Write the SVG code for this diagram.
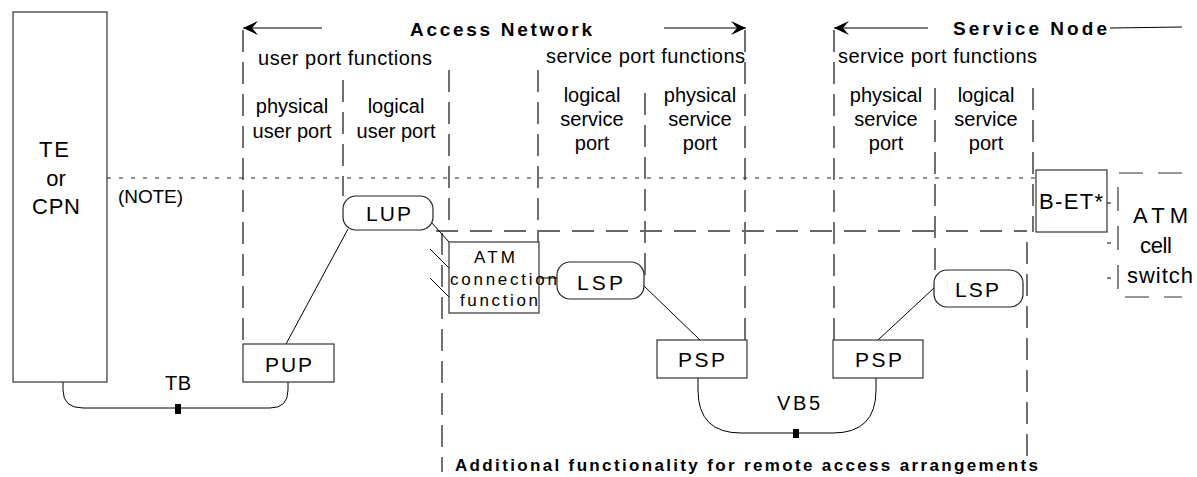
<svg xmlns="http://www.w3.org/2000/svg" width="1197" height="477" viewBox="0 0 1197 477">
<defs>
<style>
text{font-family:"Liberation Sans",Arial,sans-serif;font-size:20px;fill:#000}
.b{font-weight:bold;font-size:19px}
.m{text-anchor:middle}
.lg{font-size:22px}
.nl{font-size:21px}
.box{fill:#fff;stroke:#333;stroke-width:1.2}
.oct{fill:#fff;stroke:#222;stroke-width:1.2}
.ln{fill:none;stroke:#000;stroke-width:1}
.vd{fill:none;stroke:#111;stroke-width:1.2;stroke-dasharray:22 10}
.dot{fill:none;stroke:#222;stroke-width:1;stroke-dasharray:4 8}
.ld{fill:none;stroke:#666;stroke-width:2;stroke-dasharray:22 12}
.sw{fill:none;stroke:#333;stroke-width:1.2;stroke-dasharray:24 15}
</style>
<marker id="ah" viewBox="-16 -8 17 16" markerWidth="17" markerHeight="16" refX="0" refY="0" orient="auto" markerUnits="userSpaceOnUse">
<path d="M0,0 L-15,-7 L-9,0 L-15,7 Z" fill="#000"/>
</marker>
</defs>

<g id="frames">
<line class="vd" x1="243" y1="30" x2="243" y2="344"/>
<line class="vd" x1="343" y1="80" x2="343" y2="196"/>
<line class="vd" x1="449" y1="70" x2="449" y2="231"/>
<line class="vd" x1="442" y1="233" x2="442" y2="472"/>
<line class="vd" x1="538" y1="70" x2="538" y2="242"/>
<line class="vd" x1="645" y1="93" x2="645" y2="276"/>
<line class="vd" x1="745" y1="30" x2="745" y2="340"/>
<line class="vd" x1="834" y1="30" x2="834" y2="340"/>
<line class="vd" x1="935" y1="88" x2="935" y2="270"/>
<line class="vd" x1="1033" y1="88" x2="1033" y2="232"/>
<line class="vd" x1="1027" y1="242" x2="1027" y2="460"/>
<line class="dot" x1="107" y1="178" x2="1036" y2="178"/>
<line class="ld" x1="436" y1="231" x2="1027" y2="231"/>
<path class="sw" d="M1182,173 L1118,173 L1118,297 L1182,297"/>
<line class="ln" x1="1107" y1="203" x2="1111" y2="203"/>
<line class="ln" x1="1107" y1="243" x2="1111" y2="243"/>
<line class="ln" x1="1107" y1="278" x2="1111" y2="278"/>
</g>

<g id="titles">
<line class="ln" x1="322" y1="28" x2="243" y2="28" marker-end="url(#ah)"/>
<text class="b" x="410" y="36" textLength="182" lengthAdjust="spacing">Access Network</text>
<line class="ln" x1="664" y1="28" x2="746" y2="28" marker-end="url(#ah)"/>
<line class="ln" x1="928" y1="28" x2="834" y2="28" marker-end="url(#ah)"/>
<text class="b" x="953" y="35" textLength="154" lengthAdjust="spacing">Service Node</text>
<line class="ln" x1="1110" y1="28" x2="1182" y2="27"/>
<text x="258" y="65" textLength="174" lengthAdjust="spacing">user port functions</text>
<text x="546" y="63" textLength="199" lengthAdjust="spacing">service port functions</text>
<text x="838" y="63" textLength="199" lengthAdjust="spacing">service port functions</text>
<text class="m" x="292" y="113">physical</text>
<text class="m" x="292" y="138">user port</text>
<text class="m" x="396" y="113">logical</text>
<text class="m" x="396" y="138">user port</text>
<text class="m" x="592" y="102">logical</text>
<text class="m" x="592" y="126">service</text>
<text class="m" x="592" y="150">port</text>
<text class="m" x="700" y="102">physical</text>
<text class="m" x="700" y="126">service</text>
<text class="m" x="700" y="150">port</text>
<text class="m" x="886" y="102">physical</text>
<text class="m" x="886" y="126">service</text>
<text class="m" x="886" y="150">port</text>
<text class="m" x="986" y="102">logical</text>
<text class="m" x="986" y="126">service</text>
<text class="m" x="986" y="150">port</text>
<text x="118" y="203" style="font-size:19px" textLength="65" lengthAdjust="spacing">(NOTE)</text>
<text x="165" y="390" textLength="26" lengthAdjust="spacing">TB</text>
<text x="777" y="410" textLength="43" lengthAdjust="spacing">VB5</text>
<text class="b" x="455" y="471" style="font-size:17px" textLength="583" lengthAdjust="spacing">Additional functionality for remote access arrangements</text>
</g>

<g id="connectors">
<path class="ln" d="M63,382 L63,390 Q63,408 83,408 L270,408 Q288,408 288,390 L288,382"/>
<rect x="175" y="404" width="6" height="10" fill="#000"/>
<line class="ln" x1="286" y1="344" x2="348" y2="229"/>
<line class="ln" x1="431" y1="222" x2="449" y2="242"/>
<line class="ln" x1="430" y1="249" x2="449" y2="268"/>
<line class="ln" x1="430" y1="278" x2="449" y2="297"/>
<line class="ln" x1="539" y1="278" x2="557" y2="278"/>
<line class="ln" x1="644" y1="286" x2="700" y2="340"/>
<path class="ln" d="M698,378 L698,390 Q698,433 741,433 L833,433 Q876,433 876,390 L876,378"/>
<rect x="793" y="429" width="6" height="9" fill="#000"/>
<line class="ln" x1="878" y1="340" x2="934" y2="288"/>
</g>

<g id="node-te">
<rect class="box" x="13" y="12" width="94" height="370"/>
<text class="m lg" x="54" y="157" textLength="30" lengthAdjust="spacing">TE</text>
<text class="m lg" x="56" y="186">or</text>
<text class="lg" x="32" y="214" textLength="48" lengthAdjust="spacing">CPN</text>
</g>
<g id="node-pup">
<rect class="box" x="243" y="344" width="91" height="38"/>
<text class="nl" x="265" y="372" textLength="47" lengthAdjust="spacing">PUP</text>
</g>
<g id="node-lup">
<rect class="oct" x="343" y="196" width="90" height="34" rx="13" ry="13"/>
<text class="nl" x="366" y="221" textLength="45" lengthAdjust="spacing">LUP</text>
</g>
<g id="node-atm-cf">
<rect class="box" x="449" y="242" width="90" height="71"/>
<text x="474" y="263" style="font-size:17px" textLength="41" lengthAdjust="spacing">ATM</text>
<text x="450" y="285" style="font-size:17px" textLength="107" lengthAdjust="spacing">connection</text>
<text x="460" y="306" style="font-size:17px" textLength="78" lengthAdjust="spacing">function</text>
</g>
<g id="node-lsp1">
<rect class="oct" x="557" y="262" width="87" height="37" rx="13" ry="13"/>
<text class="nl" x="577" y="290" textLength="46" lengthAdjust="spacing">LSP</text>
</g>
<g id="node-psp1">
<rect class="box" x="657" y="340" width="90" height="38"/>
<text class="nl" x="678" y="367" textLength="47" lengthAdjust="spacing">PSP</text>
</g>
<g id="node-psp2">
<rect class="box" x="833" y="340" width="90" height="38"/>
<text class="nl" x="855" y="367" textLength="47" lengthAdjust="spacing">PSP</text>
</g>
<g id="node-lsp2">
<rect class="oct" x="934" y="270" width="89" height="37" rx="13" ry="13"/>
<text class="nl" x="955" y="297" textLength="44" lengthAdjust="spacing">LSP</text>
</g>
<g id="node-bet">
<rect class="box" x="1036" y="170" width="71" height="62"/>
<text class="lg" x="1039" y="209" textLength="64" lengthAdjust="spacing">B-ET*</text>
</g>
<g id="node-atm-switch">
<text class="lg" x="1133" y="223" textLength="55" lengthAdjust="spacing">ATM</text>
<text class="lg" x="1140" y="253" textLength="32" lengthAdjust="spacing">cell</text>
<text class="lg" x="1127" y="283" textLength="66" lengthAdjust="spacing">switch</text>
</g>
</svg>
